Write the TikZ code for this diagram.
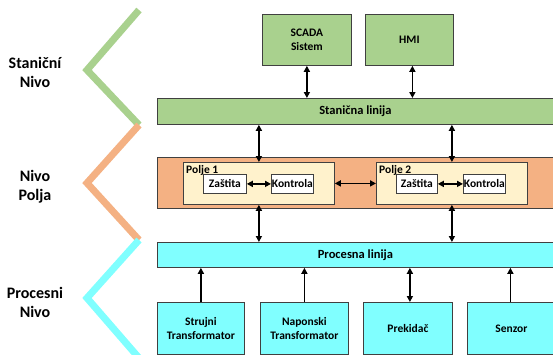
\documentclass[tikz,border=0pt]{standalone}
\usepackage{fontspec}
\setmainfont{Carlito}
\usetikzlibrary{arrows.meta,calc}
\definecolor{cgreen}{HTML}{A9D18E}
\definecolor{corange}{HTML}{F4B183}
\definecolor{ccream}{HTML}{FFF2CC}
\definecolor{ccyan}{HTML}{80FFFF}
\definecolor{cborder}{HTML}{404040}
\begin{document}
\begin{tikzpicture}[x=1pt,y=-1pt,
  box/.style={draw=cborder, line width=0.8pt, inner sep=0pt, anchor=north west,
    font=\bfseries\fontsize{11.5}{14}\selectfont, align=center},
  lvl/.style={font=\bfseries\fontsize{16}{19}\selectfont, align=center},
  zig/.style={line width=7pt, line join=miter},
  arr/.style={{Triangle[length=6pt,width=6pt]}-{Triangle[length=6pt,width=6pt]}, line width=1.7pt},
  uarr/.style={-{Triangle[length=6pt,width=6pt]}, line width=1.7pt}]
\useasboundingbox (0,0) rectangle (553,354);
\clip (0,0) rectangle (553,354);
% zigzag
\draw[zig, cgreen] (139,10) -- (87,70) -- (139,125);
\draw[zig, corange] (139,125) -- (87,183) -- (139,240);
\draw[zig, ccyan] (139,240) -- (87,298) -- (139,358);
\node[lvl] (l1) at (35,72) {Staniční\\Nivo};
\node[lvl] (l2) at (35,187) {Nivo\\Polja};
\node[lvl] (l3) at (35,302) {Procesni\\Nivo};
% top
\node[box, fill=cgreen, minimum width=89, minimum height=51] (scada) at (262,14) {SCADA\\Sistem};
\node[box, fill=cgreen, minimum width=88, minimum height=51] (hmi) at (365,14) {HMI};
\node[box, fill=cgreen, minimum width=400, minimum height=26, font=\bfseries\fontsize{12.5}{14}\selectfont] (stan) at (157,98) {\hspace*{-4pt}Stanična linija\hspace*{0pt}};
% field
\node[box, fill=corange, minimum width=400, minimum height=51] (bay) at (157,157) {};
\node[box, fill=ccream, minimum width=151, minimum height=42] (p1) at (183,162) {};
\node[box, fill=ccream, minimum width=151, minimum height=42] (p2) at (376,162) {};
\node[anchor=north west, inner sep=0pt, font=\bfseries\fontsize{11.5}{13}\selectfont] (p1t) at ($(p1.north west)+(3,3)$) {Polje 1};
\node[anchor=north west, inner sep=0pt, font=\bfseries\fontsize{11.5}{13}\selectfont] (p2t) at ($(p2.north west)+(3,3)$) {Polje 2};
\node[box, fill=white, minimum width=43, minimum height=19] (z1) at (203,174) {Zaštita};
\node[box, fill=white, minimum width=42, minimum height=19] (k1) at (271,174) {Kontrola};
\node[box, fill=white, minimum width=41, minimum height=19] (z2) at (396,174) {Zaštita};
\node[box, fill=white, minimum width=42, minimum height=19] (k2) at (463,174) {Kontrola};
% process
\node[box, fill=ccyan, minimum width=400, minimum height=25, font=\bfseries\fontsize{12.5}{14}\selectfont] (proc) at (157,242) {\hspace*{-4pt}Procesna linija};
\node[box, fill=ccyan, minimum width=87, minimum height=52] (b1) at (157,302) {Strujni\\Transformator};
\node[box, fill=ccyan, minimum width=88, minimum height=52] (b2) at (260,302) {Naponski\\Transformator};
\node[box, fill=ccyan, minimum width=89, minimum height=52] (b3) at (363,302) {Prekidač};
\node[box, fill=ccyan, minimum width=92, minimum height=52] (b4) at (467,302) {\hspace*{-4pt}Senzor};
% arrows
\draw[arr] (scada.south) -- (scada.south |- stan.north);
\draw[arr] ($(hmi.south)+(3,0)$) -- ($(hmi.south |- stan.north)+(3,0)$);
\draw[arr] (p1.north |- stan.south) -- (p1.north);
\draw[arr] (p2.north |- stan.south) -- (p2.north);
\draw[arr] (p1.south) -- (p1.south |- proc.north);
\draw[arr] (p2.south) -- (p2.south |- proc.north);
\draw[arr] (z1.east) -- (k1.west);
\draw[arr] (z2.east) -- (k2.west);
\draw[arr] (p1.east) -- (p2.west);
\draw[uarr] (b1.north) -- (b1.north |- proc.south);
\draw[uarr] (b2.north) -- (b2.north |- proc.south);
\draw[arr] ($(b3.north)+(2,0)$) -- ($(b3.north |- proc.south)+(2,0)$);
\draw[uarr] ($(b4.north)+(-3,0)$) -- ($(b4.north |- proc.south)+(-3,0)$);
\end{tikzpicture}
\end{document}
